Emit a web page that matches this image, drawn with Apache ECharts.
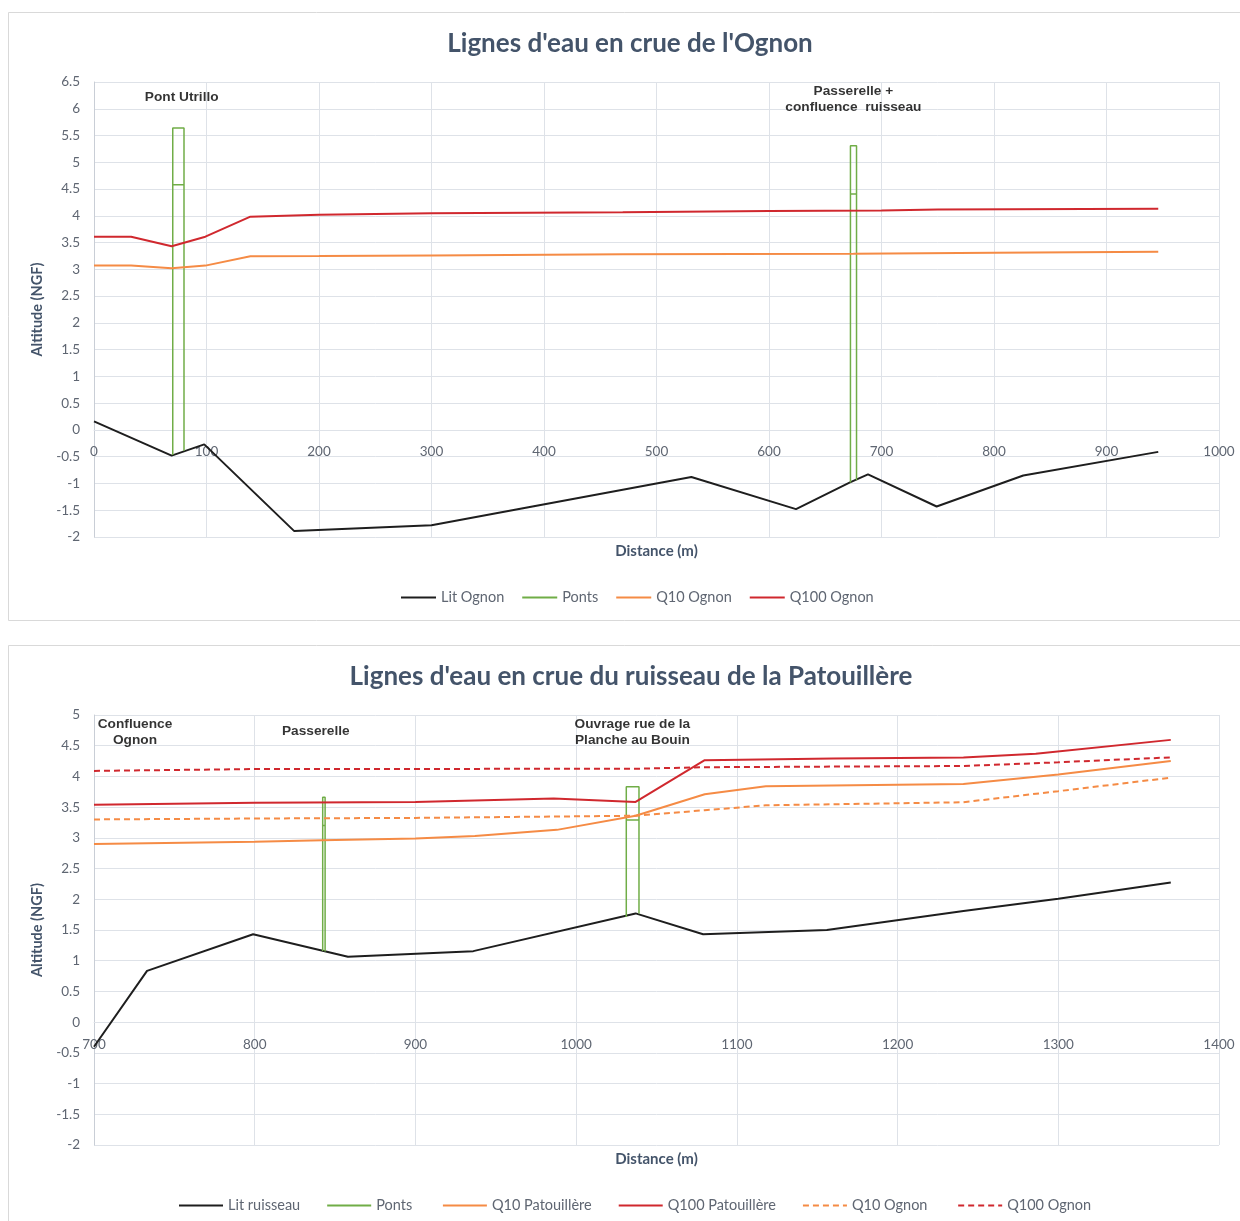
<!DOCTYPE html>
<html lang="fr">
<head>
<meta charset="utf-8">
<title>Lignes d'eau en crue</title>
<script src="https://cdn.jsdelivr.net/npm/echarts@6/dist/echarts.min.js"></script>
<style>
  html, body { margin: 0; padding: 0; background: #ffffff; }
  #chart { width: 1240px; height: 1221px; }
</style>
</head>
<body>
<div id="chart"></div>
<script>
// ---- Ognon : profil en long (distance en m, altitude en m NGF) ----
const litOgnon = [[0, 0.16], [69, -0.48], [98, -0.27], [178, -1.89], [300, -1.78], [531, -0.88],
  [624, -1.48], [672, -0.98], [688, -0.83], [749, -1.43], [826, -0.85], [946, -0.41]];
const q10Ognon = [[0, 3.07], [33, 3.07], [69, 3.02], [99, 3.07], [139, 3.245], [200, 3.25],
  [300, 3.26], [470, 3.28], [675, 3.29], [800, 3.31], [946, 3.33]];
const q100Ognon = [[0, 3.61], [33, 3.61], [69, 3.43], [99, 3.61], [139, 3.985], [200, 4.02],
  [300, 4.05], [470, 4.065], [600, 4.09], [700, 4.10], [750, 4.12], [946, 4.13]];
// ouvrages : rives gauche/droite, pied des appuis, sous-face et dessus du tablier
const pontsOgnon = [
  { x0: 70, x1: 80, base0: -0.47, base1: -0.39, tablier: 4.58, dessus: 5.64 },
  { x0: 672.4, x1: 677.8, base0: -0.98, base1: -0.94, tablier: 4.41, dessus: 5.31 }
];
const notesOgnon = [[78, 6.21, 'Pont Utrillo'], [675, 6.17, 'Passerelle +\nconfluence  ruisseau']];

// ---- Ruisseau de la Patouillère ----
const litRuisseau = [[700, -0.40], [733, 0.835], [799, 1.43], [858, 1.063], [936, 1.156], [1037, 1.77],
  [1079, 1.43], [1156, 1.50], [1241, 1.81], [1300, 2.01], [1370, 2.275]];
const q10Patouillere = [[700, 2.90], [800, 2.935], [842, 2.96], [900, 2.99], [937, 3.03], [988, 3.13],
  [1037, 3.36], [1080, 3.71], [1118, 3.84], [1241, 3.875], [1300, 4.03], [1370, 4.25]];
const q100Patouillere = [[700, 3.54], [800, 3.57], [900, 3.585], [986, 3.64], [1037, 3.585], [1080, 4.265],
  [1160, 4.29], [1241, 4.31], [1286, 4.37], [1370, 4.595]];
const q10OgnonAval = [[700, 3.30], [800, 3.315], [900, 3.325], [1037, 3.36], [1080, 3.45], [1118, 3.53],
  [1241, 3.58], [1300, 3.76], [1370, 3.98]];
const q100OgnonAval = [[700, 4.09], [800, 4.12], [1037, 4.125], [1080, 4.15], [1241, 4.17], [1300, 4.23], [1370, 4.31]];
const pontsRuisseau = [
  { x0: 842.3, x1: 843.8, base0: 1.16, base1: 1.15, tablier: 3.2, dessus: 3.66 },
  { x0: 1031.2, x1: 1039.1, base0: 1.71, base1: 1.77, tablier: 3.29, dessus: 3.83 }
];
const notesRuisseau = [[725.5, 4.72, 'Confluence\nOgnon'], [838, 4.73, 'Passerelle'],
  [1035, 4.72, 'Ouvrage rue de la\nPlanche au Bouin']];

// ---- mise en forme ----
const GRID_COLOR = '#DEE2E8';
const TICK_COLOR = '#5F6672';
const NAME_COLOR = '#44546A';
const FONT = 'Lato, "Open Sans", sans-serif';
const C_LIT = '#1E1E1E', C_PONT = '#70AD47', C_Q10 = '#F58B45', C_Q100 = '#D0282E';

const grids = [
  { left: 94, top: 82, width: 1125, height: 455 },
  { left: 94, top: 715, width: 1125, height: 430 }
];

// contour des ouvrages : appuis + dessus, puis sous-face du tablier
function bridgeOutline(list) {
  const gap = ['-', '-'];
  const pts = [];
  list.forEach((p, i) => {
    if (i) pts.push(gap);
    pts.push([p.x0, p.base0], [p.x0, p.dessus], [p.x1, p.dessus], [p.x1, p.base1], gap,
      [p.x0, p.tablier], [p.x1, p.tablier]);
  });
  return pts;
}

// l'axe des distances passe par l'altitude 0
function xAxis(gridIndex, min, max, yMin, yMax, nameGap) {
  const toZero = grids[gridIndex].height * (0 - yMin) / (yMax - yMin);
  return {
    type: 'value', gridIndex, min, max, interval: 100,
    offset: -toZero,
    name: 'Distance (m)', nameLocation: 'middle', nameGap,
    nameTextStyle: { color: NAME_COLOR, fontWeight: 'bold', fontSize: 15, fontFamily: FONT },
    axisLine: { onZero: false, lineStyle: { color: GRID_COLOR, width: 1 } },
    axisTick: { show: false },
    axisLabel: { color: TICK_COLOR, fontSize: 13.5, fontFamily: FONT, margin: 15, formatter: v => String(v) },
    splitLine: { show: true, lineStyle: { color: GRID_COLOR, width: 1 } }
  };
}
function yAxis(gridIndex, min, max) {
  return {
    type: 'value', gridIndex, min, max, interval: 0.5,
    name: 'Altitude (NGF)', nameLocation: 'middle', nameGap: 42,
    nameTextStyle: { color: NAME_COLOR, fontWeight: 'bold', fontSize: 14.5, fontFamily: FONT },
    axisLine: { show: true, onZero: false, lineStyle: { color: '#C9CED6', width: 1 } },
    axisTick: { show: false },
    axisLabel: { color: TICK_COLOR, fontSize: 13.5, fontFamily: FONT, margin: 14, formatter: v => String(v) },
    splitLine: { show: true, lineStyle: { color: GRID_COLOR, width: 1 } }
  };
}
function line(name, data, color, width, idx, dashed) {
  return {
    type: 'line', name, data, xAxisIndex: idx, yAxisIndex: idx,
    symbol: 'none', connectNulls: false, silent: true,
    lineStyle: { color, width, type: dashed ? [6, 4] : 'solid' },
    itemStyle: { color }
  };
}
function notes(data, idx) {
  return {
    type: 'scatter', name: 'notes', xAxisIndex: idx, yAxisIndex: idx, silent: true,
    symbolSize: 1, itemStyle: { color: 'rgba(0,0,0,0)' },
    data: data.map(d => ({ value: [d[0], d[1]], label: { formatter: d[2] } })),
    label: {
      show: true, position: 'inside', color: '#000', fontSize: 13.7, lineHeight: 16,
      fontWeight: 'bold', fontFamily: '"Liberation Sans", Arial, sans-serif', align: 'center'
    }
  };
}
const legendText = { color: TICK_COLOR, fontSize: 14.5, fontFamily: FONT };

const chart = echarts.init(document.getElementById('chart'), null, { renderer: 'canvas' });
chart.setOption({
  animation: false,
  backgroundColor: '#ffffff',
  graphic: [
    { type: 'rect', shape: { x: 8.5, y: 12.5, width: 1260, height: 608 }, style: { fill: 'none', stroke: '#D9D9D9', lineWidth: 1 }, silent: true },
    { type: 'rect', shape: { x: 8.5, y: 645.5, width: 1260, height: 600 }, style: { fill: 'none', stroke: '#D9D9D9', lineWidth: 1 }, silent: true }
  ],
  title: [
    { text: "Lignes d'eau en crue de l'Ognon", left: 630, textAlign: 'center', top: 31, padding: 0,
      textStyle: { color: NAME_COLOR, fontSize: 26, fontWeight: 'bold', fontFamily: FONT } },
    { text: 'Lignes d\'eau en crue du ruisseau de la Patouillère', left: 631, textAlign: 'center', top: 664, padding: 0,
      textStyle: { color: NAME_COLOR, fontSize: 26, fontWeight: 'bold', fontFamily: FONT } }
  ],
  legend: [
    { data: ['Lit Ognon', 'Ponts', 'Q10 Ognon', 'Q100 Ognon'], left: 395, top: 585, itemWidth: 35, itemHeight: 14,
      itemGap: 17, textStyle: legendText, selectedMode: false, itemStyle: { opacity: 0 } },
    { data: ['Lit ruisseau', 'Ponts ', 'Q10 Patouillère', 'Q100 Patouillère', 'Q10 Ognon ', 'Q100 Ognon '],
      left: 173, top: 1193, itemWidth: 44, itemHeight: 14, itemGap: 26, textStyle: legendText,
      selectedMode: false, itemStyle: { opacity: 0 } }
  ],
  grid: grids,
  xAxis: [xAxis(0, 0, 1000, -2, 6.5, 114), xAxis(1, 700, 1400, -2, 5, 130)],
  yAxis: [yAxis(0, -2, 6.5), yAxis(1, -2, 5)],
  series: [
    line('Lit Ognon', litOgnon, C_LIT, 2, 0),
    line('Ponts', bridgeOutline(pontsOgnon), C_PONT, 1.5, 0),
    line('Q10 Ognon', q10Ognon, C_Q10, 2, 0),
    line('Q100 Ognon', q100Ognon, C_Q100, 2, 0),
    notes(notesOgnon, 0),

    line('Lit ruisseau', litRuisseau, C_LIT, 2, 1),
    line('Ponts ', bridgeOutline(pontsRuisseau), C_PONT, 1.5, 1),
    line('Q10 Patouillère', q10Patouillere, C_Q10, 2, 1),
    line('Q100 Patouillère', q100Patouillere, C_Q100, 2, 1),
    line('Q10 Ognon ', q10OgnonAval, C_Q10, 2, 1, true),
    line('Q100 Ognon ', q100OgnonAval, C_Q100, 2, 1, true),
    notes(notesRuisseau, 1)
  ]
});
</script>
</body>
</html>
